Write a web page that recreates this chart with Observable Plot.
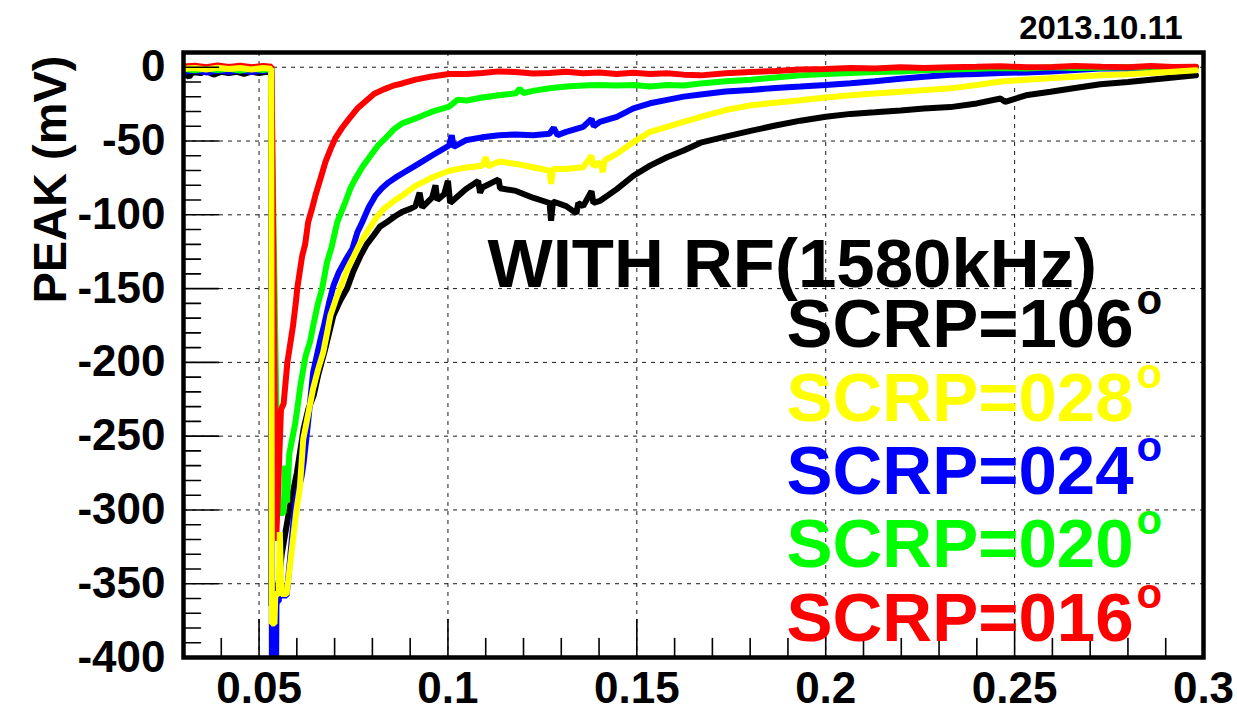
<!DOCTYPE html>
<html>
<head>
<meta charset="utf-8">
<script src="https://cdn.jsdelivr.net/npm/d3@7"></script>
<script src="https://cdn.jsdelivr.net/npm/@observablehq/plot@0.6"></script>
<style>
html, body { margin: 0; padding: 0; background: #fff; }
#chart svg { display: block; }
</style>
</head>
<body>
<div id="chart"></div>
<script>
// ---- tick values / labels ----
const xTicks = [0.05, 0.1, 0.15, 0.2, 0.25, 0.3];
const xTickLabels = ["0.05", "0.1", "0.15", "0.2", "0.25", "0.3"];
const yTicks = [0, -50, -100, -150, -200, -250, -300, -350, -400];
const yTickLabels = ["0", "-50", "-100", "-150", "-200", "-250", "-300", "-350", "-400"];
const xMinorTicks = [0.03,0.04,0.06,0.07,0.08,0.09,0.11,0.12,0.13,0.14,0.16,0.17,0.18,0.19,0.21,0.22,0.23,0.24,0.26,0.27,0.28,0.29];
const yMinorTicks = [-10,-20,-30,-40,-60,-70,-80,-90,-110,-120,-130,-140,-160,-170,-180,-190,-210,-220,-230,-240,-260,-270,-280,-290,-310,-320,-330,-340,-360,-370,-380,-390];

// ---- series (x, PEAK in mV) ----
const scrp106 = [[0.0300,-3.5],[0.0315,-6.5],[0.0325,-3.0],[0.0345,-4.0],[0.0360,-2.5],[0.0380,-5.0],[0.0400,-3.0],[0.0420,-4.0],[0.0440,-3.0],[0.0460,-4.5],[0.0480,-3.0],[0.0500,-4.0],[0.0520,-3.0],[0.0532,-3.5],[0.0533,-365],[0.0545,-365],[0.0560,-330],[0.0580,-300],[0.0600,-275],[0.0618,-245],[0.0630,-232],[0.0645,-222],[0.0657,-208],[0.0675,-191],[0.0697,-168],[0.0715,-158],[0.0733,-150],[0.0750,-138],[0.0768,-128],[0.0785,-120],[0.0803,-114],[0.0820,-108],[0.0838,-105],[0.0860,-101],[0.0879,-98],[0.0900,-96],[0.0914,-94.1],[0.0925,-85],[0.0932,-95],[0.0958,-88.4],[0.0967,-80],[0.0972,-90],[0.0990,-86],[0.1000,-77],[0.1006,-92],[0.1047,-82.6],[0.1080,-77],[0.1085,-85],[0.1091,-81.5],[0.1134,-76],[0.1138,-82],[0.1180,-83.8],[0.1225,-88.4],[0.1269,-92],[0.1273,-104],[0.1278,-91],[0.1313,-94.1],[0.1340,-99],[0.1345,-92],[0.1358,-94.1],[0.1380,-84],[0.1385,-92],[0.1402,-90.6],[0.1447,-82.6],[0.1491,-73.5],[0.1535,-66.7],[0.1580,-61],[0.1624,-56.4],[0.1669,-51.1],[0.1735,-47],[0.1801,-43.1],[0.1867,-39.5],[0.1933,-36.2],[0.2000,-33.5],[0.2066,-31.6],[0.2130,-30.5],[0.2198,-29.3],[0.2260,-28],[0.2330,-27],[0.2400,-24.5],[0.2463,-21.2],[0.2475,-23.5],[0.2530,-19],[0.2595,-16.6],[0.2660,-14],[0.2727,-11.5],[0.2800,-10],[0.2860,-8.5],[0.2920,-7],[0.2980,-5.5]];

const scrp028 = [[0.0300,-1.0],[0.0330,-0.5],[0.0360,-1.5],[0.0390,-0.3],[0.0420,-1.2],[0.0450,-0.5],[0.0480,-1.5],[0.0510,-0.5],[0.0532,-1.0],[0.0534,-377],[0.0541,-377],[0.0543,-357],[0.0552,-357],[0.0555,-315],[0.0559,-357],[0.0573,-357],[0.0599,-300],[0.0608,-285],[0.0617,-252],[0.0630,-235],[0.0643,-218],[0.0656,-205],[0.0670,-193],[0.0680,-180],[0.0689,-168],[0.0705,-156],[0.0720,-146],[0.0735,-136],[0.0751,-128],[0.0770,-118],[0.0790,-110],[0.0810,-102],[0.0830,-96],[0.0855,-91],[0.0879,-87],[0.0914,-80.4],[0.0958,-74.7],[0.1003,-70.1],[0.1047,-68],[0.1091,-66.7],[0.1100,-61],[0.1106,-67],[0.1136,-63.9],[0.1180,-65.5],[0.1225,-67.8],[0.1269,-70.1],[0.1273,-79],[0.1278,-69],[0.1313,-68.9],[0.1358,-67.8],[0.1380,-60],[0.1385,-67],[0.1402,-64.4],[0.1410,-71],[0.1415,-63],[0.1447,-58.7],[0.1491,-50.7],[0.1535,-43.8],[0.1580,-40.4],[0.1624,-37],[0.1669,-33.6],[0.1735,-29],[0.1801,-25.8],[0.1867,-24],[0.1933,-22.3],[0.2000,-20.5],[0.2066,-18.9],[0.2130,-17.8],[0.2198,-16.6],[0.2260,-15.5],[0.2330,-14.3],[0.2400,-12],[0.2463,-9.7],[0.2530,-8.5],[0.2595,-7.4],[0.2660,-6.5],[0.2727,-5.5],[0.2800,-4.7],[0.2860,-3.9],[0.2920,-3.0],[0.2980,-2.1]];

const scrp024 = [[0.0300,-3.0],[0.0330,-2.0],[0.0360,-3.5],[0.0390,-2.2],[0.0420,-3.0],[0.0450,-2.0],[0.0480,-3.2],[0.0510,-2.2],[0.0532,-2.8],[0.0534,-410],[0.0545,-410],[0.0546,-362],[0.0552,-362],[0.0553,-358],[0.0573,-358],[0.0595,-297],[0.0605,-285],[0.0612,-278],[0.0618,-268],[0.0630,-240],[0.0643,-207],[0.0663,-184],[0.0672,-175],[0.0678,-168],[0.0685,-160],[0.0697,-148],[0.0711,-139],[0.0728,-131],[0.0747,-123],[0.0760,-112],[0.0773,-105],[0.0790,-95],[0.0808,-87],[0.0825,-82],[0.0843,-78],[0.0860,-75],[0.0879,-72],[0.0914,-66.7],[0.0958,-59.8],[0.1003,-53],[0.1010,-46],[0.1015,-54],[0.1047,-49.5],[0.1090,-47.5],[0.1136,-46.1],[0.1180,-45.5],[0.1225,-46.1],[0.1269,-45],[0.1280,-41],[0.1290,-46],[0.1313,-43.8],[0.1358,-40.4],[0.1380,-35],[0.1386,-40],[0.1402,-37],[0.1447,-33.6],[0.1491,-27.9],[0.1535,-24.4],[0.1580,-22.1],[0.1624,-19.9],[0.1669,-18.4],[0.1735,-16.5],[0.1801,-15.4],[0.1867,-14.0],[0.1933,-13.1],[0.2000,-12.0],[0.2066,-10.8],[0.2130,-9.5],[0.2198,-7.8],[0.2260,-6.5],[0.2330,-5.1],[0.2400,-4.5],[0.2463,-3.9],[0.2530,-3.5],[0.2595,-2.8],[0.2660,-1.8],[0.2727,-0.9],[0.2800,-0.8],[0.2860,-0.5],[0.2920,-0.3],[0.2980,0]];

const scrp020 = [[0.0300,-1.0],[0.0330,-2.0],[0.0360,-0.8],[0.0390,-1.8],[0.0420,-1.0],[0.0450,-2.2],[0.0480,-1.0],[0.0510,-1.8],[0.0532,-1.2],[0.0550,-302],[0.0565,-302],[0.0569,-270],[0.0574,-295],[0.0580,-262],[0.0596,-241],[0.0610,-215],[0.0623,-196],[0.0635,-186],[0.0645,-173],[0.0656,-160],[0.0667,-150],[0.0680,-132],[0.0692,-122],[0.0707,-105],[0.0718,-98],[0.0729,-91],[0.0742,-82],[0.0755,-75.5],[0.0775,-67],[0.0795,-60],[0.0815,-53],[0.0835,-48],[0.0857,-42],[0.0879,-38],[0.0914,-34.7],[0.0958,-30.1],[0.1003,-26.7],[0.1025,-22.1],[0.1050,-22.5],[0.1091,-20.5],[0.1135,-19.0],[0.1180,-17.6],[0.1190,-14.5],[0.1200,-17.5],[0.1225,-16.0],[0.1269,-14.2],[0.1313,-13.0],[0.1358,-12.3],[0.1400,-12.0],[0.1447,-12.3],[0.1490,-12.0],[0.1535,-13.0],[0.1580,-12.0],[0.1624,-12.3],[0.1669,-11.0],[0.1735,-9.5],[0.1801,-8.5],[0.1867,-7.0],[0.1933,-5.5],[0.2000,-4.5],[0.2066,-3.9],[0.2130,-3.3],[0.2198,-2.8],[0.2260,-2.0],[0.2330,-1.6],[0.2400,-1.0],[0.2463,-0.5],[0.2530,-0.8],[0.2600,0],[0.2660,-0.5],[0.2730,-0.3],[0.2800,0],[0.2860,-0.4],[0.2920,0],[0.2980,-0.2]];

const scrp016 = [[0.0300,0.5],[0.0330,1.0],[0.0360,0.0],[0.0390,1.2],[0.0420,0.2],[0.0450,1.0],[0.0480,0.0],[0.0510,0.8],[0.0533,0.3],[0.0545,-321],[0.0549,-296],[0.0558,-232],[0.0565,-228],[0.0575,-200],[0.0590,-175],[0.0598,-158],[0.0601,-150],[0.0614,-128],[0.0622,-120],[0.0630,-105],[0.0640,-96],[0.0649,-87],[0.0662,-76],[0.0676,-64],[0.0690,-55],[0.0702,-48],[0.0720,-41],[0.0738,-35],[0.0760,-28],[0.0782,-23],[0.0805,-18],[0.0830,-15],[0.0855,-12.5],[0.0879,-11],[0.0914,-8.4],[0.0958,-6.2],[0.1003,-4.6],[0.1050,-4.5],[0.1091,-3.9],[0.1135,-2.8],[0.1180,-3.2],[0.1225,-4.2],[0.1269,-3.9],[0.1313,-3.0],[0.1358,-4.1],[0.1400,-3.5],[0.1447,-4.6],[0.1490,-3.8],[0.1535,-4.6],[0.1580,-4.0],[0.1624,-5.0],[0.1669,-5.5],[0.1735,-4.0],[0.1801,-3.2],[0.1867,-2.5],[0.1933,-1.6],[0.2000,-1.2],[0.2066,-0.5],[0.2130,-0.8],[0.2198,0],[0.2260,-0.5],[0.2330,0],[0.2400,0.3],[0.2463,0.7],[0.2530,0],[0.2600,0.2],[0.2660,0.8],[0.2730,0.3],[0.2800,0],[0.2860,0.8],[0.2920,0.2],[0.2980,0.3]];

// legend labels & colours (legend order top to bottom)
const legendLabels = ["SCRP=106", "SCRP=028", "SCRP=024", "SCRP=020", "SCRP=016"];
const legendColors = ["#000000", "#ffff00", "#0000ff", "#00ff00", "#ff0000"];
const titleText = "WITH RF(1580kHz)";
const dateText = "2013.10.11";
const yLabel = "PEAK (mV)";

// drawing order (bottom to top)
const drawOrder = [
  {pts: scrp106, color: "#000000"},
  {pts: scrp024, color: "#0000ff"},
  {pts: scrp020, color: "#00ff00"},
  {pts: scrp016, color: "#ff0000"},
  {pts: scrp028, color: "#ffff00"}
];

const tickShape = {draw(context, l) { context.moveTo(0, 0); context.lineTo(0, -l); }};
const gridStyle = {stroke: "#000", strokeOpacity: 0.9, strokeWidth: 1, strokeDasharray: "4,5"};

const legendBaselines = [294.7, 368, 441.3, 514.7, 588];

const marks = [
  Plot.gridX(xTicks.slice(0, -1), gridStyle),
  Plot.gridY(yTicks.slice(0, -1), gridStyle),
  ...drawOrder.map(s => Plot.line(s.pts, {
    x: d => d[0], y: d => d[1], stroke: s.color, strokeWidth: 6,
    strokeLinejoin: "miter", clip: true
  })),
  Plot.frame({stroke: "#000", strokeWidth: 4.5}),
  // ticks (inside the frame)
  Plot.vector(yTicks, {y: d => d, frameAnchor: "left", length: 35, rotate: 90, anchor: "start", shape: tickShape, stroke: "#000", strokeWidth: 1.6}),
  Plot.vector(yMinorTicks, {y: d => d, frameAnchor: "left", length: 17, rotate: 90, anchor: "start", shape: tickShape, stroke: "#000", strokeWidth: 1.6}),
  Plot.vector(xTicks, {x: d => d, frameAnchor: "bottom", length: 38, rotate: 0, anchor: "start", shape: tickShape, stroke: "#000", strokeWidth: 1.6}),
  Plot.vector(xMinorTicks, {x: d => d, frameAnchor: "bottom", length: 19, rotate: 0, anchor: "start", shape: tickShape, stroke: "#000", strokeWidth: 1.6}),
  // tick labels
  Plot.axisX(xTicks, {tickSize: 0, tickPadding: 14, fontSize: 44, fontWeight: "bold", fill: "#000",
    tickFormat: d => xTickLabels[xTicks.indexOf(d)], label: null}),
  Plot.axisY(yTicks, {tickSize: 0, tickPadding: 18, fontSize: 44, fontWeight: "bold", fill: "#000",
    tickFormat: d => yTickLabels[yTicks.indexOf(d)], label: null}),
  // y-axis title
  Plot.text([yLabel], {text: d => d, frameAnchor: "top-left", dx: -118, dy: 3, rotate: -90,
    textAnchor: "end", lineAnchor: "bottom", fontSize: 47, fontWeight: "bold", fill: "#000"}),
  // date
  Plot.text([dateText], {text: d => d, frameAnchor: "top-right", dx: -21, dy: -14,
    textAnchor: "end", lineAnchor: "bottom", fontSize: 33, fontWeight: "bold", fill: "#000"}),
  // title annotation
  Plot.text([titleText], {text: d => d, frameAnchor: "top-left", dx: 304, dy: 234.7,
    textAnchor: "start", lineAnchor: "bottom", fontSize: 69, fontWeight: "bold", fill: "#000"}),
  // legend entries
  ...legendLabels.map((lab, i) => Plot.text([lab], {text: d => d, frameAnchor: "top-left", dx: 603, dy: legendBaselines[i],
    textAnchor: "start", lineAnchor: "bottom", fontSize: 69, fill: legendColors[i]})),
  ...legendLabels.map((lab, i) => Plot.text(["o"], {text: d => d, frameAnchor: "top-left", dx: 953, dy: legendBaselines[i] - 33,
    textAnchor: "start", lineAnchor: "bottom", fontSize: 42, fill: legendColors[i]}))
];

const chart = Plot.plot({
  width: 1237,
  height: 712,
  marginTop: 52,
  marginRight: 34,
  marginBottom: 55,
  marginLeft: 183,
  style: {fontFamily: "'Liberation Sans', Arial, Helvetica, sans-serif", fontWeight: "bold", background: "#fff", overflow: "visible"},
  x: {domain: [0.03, 0.3]},
  y: {domain: [-400, 10]},
  marks
});
document.getElementById("chart").appendChild(chart);
</script>
</body>
</html>
